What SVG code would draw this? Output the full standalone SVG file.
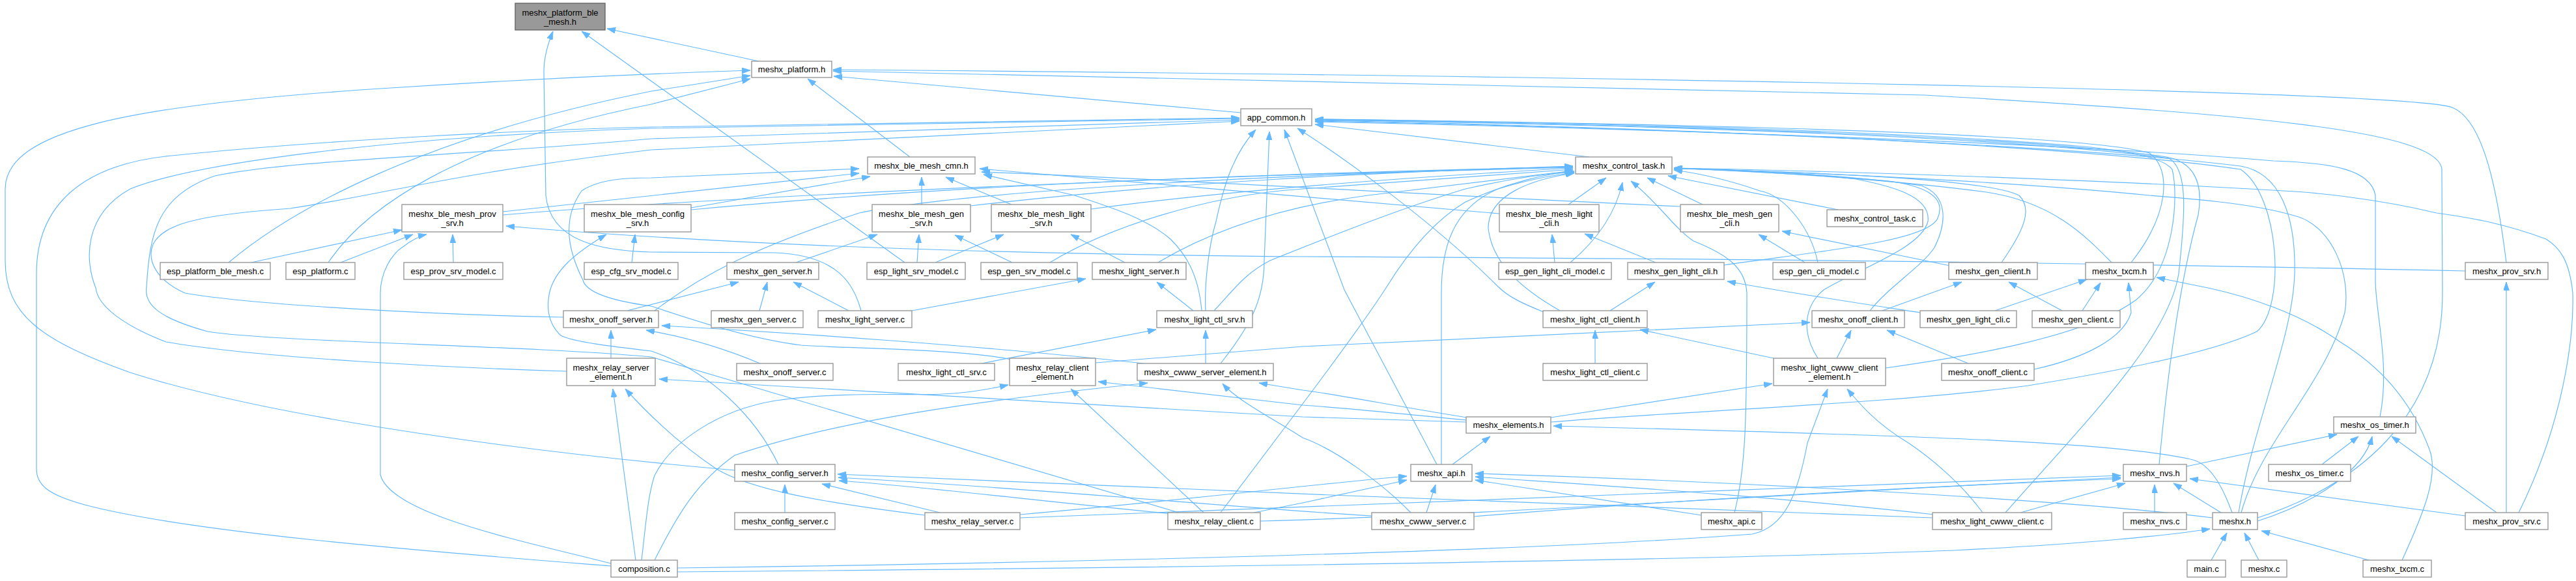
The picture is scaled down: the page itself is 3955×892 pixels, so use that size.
<svg xmlns="http://www.w3.org/2000/svg" width="3955" height="892" viewBox="0 0 3955 892">
<style>
.n rect{fill:#fff;stroke:#999;stroke-width:1.4}
.r rect{fill:#999;stroke:#666;stroke-width:1.4}
text{font-family:"Liberation Sans",Arial,Helvetica,sans-serif;font-size:13px;text-anchor:middle;fill:#000}
#edges path{fill:none;stroke:#63b8ff;stroke-width:1.15;marker-end:url(#a)}
</style>
<defs>
<marker id="a" viewBox="0 0 13 9" refX="13" refY="4.5" markerWidth="13" markerHeight="9" markerUnits="userSpaceOnUse" orient="auto"><path d="M0,0 L13,4.5 L0,9 z" fill="#63b8ff" stroke="#63b8ff" stroke-width="0.8"/></marker>
</defs>
<rect width="3955" height="892" fill="#fff"/>
<g id="edges">
<path d="M1165,94 L932,44"/>
<path d="M1322,477 C1312,440 1290,392 1190,388 L1000,387 C920,385 845,370 838,300 L835,110 C835,85 842,65 849,48"/>
<path d="M1389,403 L893,48"/>
<path d="M1128,722 C900,702 450,652 200,572 C60,522 8,482 8,400 L8,290 C8,200 200,160 600,135 C800,122 1000,113 1152,108"/>
<path d="M351,403 C450,320 650,210 1000,140 L1152,116"/>
<path d="M504,403 C560,320 700,220 1000,160 L1152,121"/>
<path d="M1397,241 L1240,121"/>
<path d="M3848,403 C3835,300 3815,185 3765,165 C3700,140 2500,117 1279,107"/>
<path d="M3466,795 C3620,745 3750,640 3750,450 L3749,260 C3745,200 3450,175 2955,146 L1279,109"/>
<path d="M1905,173 L1280,117"/>
<path d="M938,869 C700,850 300,820 130,775 C75,760 56,745 56,720 L56,420 C56,320 120,250 274,238 C500,215 800,200 1000,195 L1903,181"/>
<path d="M870,570 C700,565 400,550 255,525 C190,500 150,470 147,442 C130,400 128,330 200,290 C300,250 600,210 1000,197 L1903,182"/>
<path d="M1810,787 L1000,548 C800,530 420,525 319,509 C250,490 220,470 225,440 C230,360 240,300 330,270 C450,245 700,240 1000,213 L1903,184"/>
<path d="M865,487 C700,484 400,470 284,450 C240,430 225,400 235,375 C250,345 300,330 446,320 C580,300 700,265 1000,230 L1903,186"/>
<path d="M2440,241 L2019,191"/>
<path d="M2206,713 L2064,445 L1972,199"/>
<path d="M1874,558 C1920,500 1941,460 1941,400 L1949,202"/>
<path d="M1851,477 C1849,440 1855,380 1867,340 C1880,280 1895,235 1928,199"/>
<path d="M2370,479 C2335,465 2315,455 2300,440 C2200,340 2060,240 1992,197"/>
<path d="M3272,403 C3330,330 3335,260 3300,235 C3200,205 2600,190 2019,183"/>
<path d="M3315,713 C3330,550 3350,420 3375,330 C3385,270 3360,245 3320,240 C3100,210 2600,192 2019,184"/>
<path d="M3079,787 C3200,650 3330,520 3345,420 C3355,330 3360,260 3330,243 C3100,212 2600,193 2019,184"/>
<path d="M3437,787 C3460,650 3520,520 3523,420 C3525,330 3500,265 3440,255 C3200,225 2600,197 2019,186"/>
<path d="M3654,640 C3670,560 3647,480 3647,430 L3647,300 C3640,260 3580,250 3490,247 C3200,222 2600,199 2019,187"/>
<path d="M2895,565 C3000,550 3200,520 3280,460 C3340,410 3345,300 3335,260 C3320,240 3250,230 3200,225 C2900,200 2500,190 2019,183"/>
<path d="M3867,787 C3935,650 3952,520 3950,450 C3945,400 3930,380 3909,367 C3850,345 3800,335 3741,327 C3650,305 3550,295 3506,293 C3200,275 2800,262 2570,258"/>
<path d="M2381,648 C2600,630 2900,620 3114,592 C3250,570 3400,540 3465,509 C3510,470 3500,300 3440,260 C3200,225 2600,196 2019,185"/>
<path d="M1552,552 C1480,536 1300,535 1230,530 C1150,520 1060,490 1000,470 C940,462 900,450 895,430 C875,390 860,340 893,293 C920,275 960,273 1000,273 L1319,259"/>
<path d="M772,325 C850,315 1000,300 1319,266"/>
<path d="M1061,319 L1336,271"/>
<path d="M1415,314 L1415,272"/>
<path d="M1553,314 L1452,272"/>
<path d="M2302,328 C2000,300 1700,275 1504,259"/>
<path d="M2580,317 C2200,300 1800,275 1507,264"/>
<path d="M1845,477 C1840,420 1820,390 1797,367 C1760,335 1702,317 1650,300 L1510,268"/>
<path d="M772,330 C1000,310 1500,285 2000,268 L2415,257"/>
<path d="M1061,322 C1400,290 1800,270 2415,256"/>
<path d="M1490,316 C1800,280 2100,265 2415,255"/>
<path d="M1675,321 C1900,290 2200,270 2415,258"/>
<path d="M1005,477 C1080,420 1159,380 1319,327 C1500,290 2000,267 2415,256"/>
<path d="M1612,403 C1700,350 1850,300 2000,290 L2415,260"/>
<path d="M1778,403 C1850,360 1950,320 2100,300 L2415,262"/>
<path d="M1874,787 L2000,620 C2060,540 2110,470 2128,442 C2160,390 2200,340 2250,310 C2320,278 2380,266 2417,263"/>
<path d="M2213,713 L2213,450 C2213,380 2230,320 2300,290 C2350,275 2390,268 2417,265"/>
<path d="M2395,477 C2330,440 2290,400 2285,350 C2285,300 2350,275 2417,266"/>
<path d="M2411,403 C2450,370 2480,330 2491,280"/>
<path d="M2408,314 L2466,273"/>
<path d="M2614,314 L2529,273"/>
<path d="M2663,787 C2680,720 2682,650 2682,450 C2680,410 2650,390 2600,370 C2570,350 2545,310 2504,278"/>
<path d="M2822,322 L2561,270"/>
<path d="M2647,407 C2800,385 2960,370 2975,335 C2990,300 2950,285 2900,278 C2800,268 2650,262 2570,258"/>
<path d="M2791,403 C2780,350 2740,300 2702,293 C2650,275 2600,265 2570,261"/>
<path d="M3073,403 C3110,350 3120,320 3100,300 C3050,275 2800,265 2570,259"/>
<path d="M3242,403 C3200,360 3150,310 3050,295 C2900,275 2700,263 2570,258"/>
<path d="M2791,550 C2765,510 2770,470 2800,445 C2860,410 2950,380 2960,340 C2965,300 2900,285 2850,275 C2750,263 2650,260 2570,259"/>
<path d="M2871,477 C2900,440 2950,410 2970,380 C2990,340 2990,300 2950,285 C2850,270 2700,262 2570,258"/>
<path d="M3441,787 C3470,680 3570,590 3600,480 C3610,420 3580,350 3529,333 C3470,315 3400,308 3300,300 C3100,280 2800,265 2570,258"/>
<path d="M963,477 L1134,433"/>
<path d="M1166,477 L1178,433"/>
<path d="M1303,477 L1218,433"/>
<path d="M1222,403 L1347,360"/>
<path d="M1408,403 L1411,360"/>
<path d="M1554,403 L1466,361"/>
<path d="M1436,403 L1541,360"/>
<path d="M1727,403 L1644,360"/>
<path d="M386,403 L617,353"/>
<path d="M523,403 L634,360"/>
<path d="M938,865 C800,830 600,790 584,729 L584,450 C584,420 600,390 620,378 C630,370 645,362 655,360"/>
<path d="M696,403 L695,360"/>
<path d="M3785,416 C3400,408 2900,398 2000,394 C1500,390 1100,375 777,347"/>
<path d="M970,403 L975,360"/>
<path d="M1195,713 C1160,640 1090,570 1000,539 C940,532 880,525 861,515 C845,500 840,480 842,460 C845,420 880,390 931,360"/>
<path d="M2387,403 L2383,360"/>
<path d="M2542,403 L2433,359"/>
<path d="M2771,403 L2700,360"/>
<path d="M2994,408 L2736,355"/>
<path d="M2472,477 L2541,433"/>
<path d="M2948,480 C2850,465 2750,450 2652,432"/>
<path d="M2890,477 L3012,433"/>
<path d="M3166,477 L3084,433"/>
<path d="M3063,477 L3204,429"/>
<path d="M3197,477 L3225,434"/>
<path d="M3123,567 C3200,550 3260,520 3272,480 L3268,434"/>
<path d="M3688,860 C3720,790 3745,730 3730,690 C3700,610 3650,560 3593,525 C3530,480 3450,455 3390,442 L3311,426"/>
<path d="M1682,557 L2000,532 L2779,495"/>
<path d="M2820,550 L2842,507"/>
<path d="M3022,558 L2897,507"/>
<path d="M2449,558 L2449,507"/>
<path d="M2723,550 L2518,506"/>
<path d="M2381,641 L2721,589"/>
<path d="M1040,872 C1500,866 2300,850 2690,820 C2740,810 2760,760 2775,680 L2806,597"/>
<path d="M3044,787 C3010,740 2960,700 2930,680 C2880,650 2855,620 2836,597"/>
<path d="M2230,713 L2288,670"/>
<path d="M3427,787 C3410,740 3390,710 3363,705 C3250,680 3000,670 2385,654"/>
<path d="M2251,648 C2150,645 2050,641 2000,640 L1012,582"/>
<path d="M2251,645 C2150,635 2050,625 2000,622 L1686,586"/>
<path d="M2252,641 C2150,625 2050,605 2000,599 L1933,588"/>
<path d="M976,860 L941,597"/>
<path d="M1420,791 C1250,770 1150,750 1100,720 C1040,680 990,630 960,597"/>
<path d="M985,860 C992,800 995,760 1005,730 C1030,680 1100,630 1191,615 C1300,600 1400,608 1446,605 C1490,603 1520,597 1548,591"/>
<path d="M1848,787 L1644,597"/>
<path d="M1005,860 C1040,790 1070,740 1128,699 C1300,640 1550,610 1762,588"/>
<path d="M2166,787 C2120,740 2050,690 2000,672 C1950,640 1900,615 1877,589"/>
<path d="M938,550 L938,507"/>
<path d="M1167,558 C1100,530 1040,515 992,507"/>
<path d="M1756,558 C1500,530 1200,510 1016,500"/>
<path d="M1851,558 L1851,507"/>
<path d="M1507,558 L1775,506"/>
<path d="M1400,477 L1667,428"/>
<path d="M1832,477 L1776,433"/>
<path d="M1864,477 C1890,450 1910,420 1950,400 C2050,360 2150,320 2250,290 C2330,272 2380,266 2417,264"/>
<path d="M1205,787 L1205,744"/>
<path d="M1443,787 L1262,743"/>
<path d="M1810,790 C1600,770 1400,745 1288,738"/>
<path d="M2106,792 C1900,780 1600,750 1287,733"/>
<path d="M2967,795 C2500,780 1800,750 1286,728"/>
<path d="M1566,790 C1800,770 2000,745 2160,731"/>
<path d="M1925,787 L2000,772 L2160,737"/>
<path d="M2190,787 L2204,744"/>
<path d="M3397,795 C3200,770 2700,740 2265,727"/>
<path d="M2970,790 C2700,760 2450,745 2265,732"/>
<path d="M2612,791 L2265,737"/>
<path d="M1566,795 C2000,780 2700,750 3256,730"/>
<path d="M1935,800 C2300,790 2800,755 3256,733"/>
<path d="M2263,793 C2600,765 3000,745 3256,735"/>
<path d="M3102,787 L3263,742"/>
<path d="M3308,787 L3308,744"/>
<path d="M3410,787 L3337,742"/>
<path d="M3785,792 L3362,735"/>
<path d="M3357,716 L3588,667"/>
<path d="M3565,713 L3621,670"/>
<path d="M3466,800 C3560,770 3630,720 3642,670"/>
<path d="M3833,787 L3672,670"/>
<path d="M1040,878 C1800,872 2600,860 3000,845 C3200,835 3330,822 3393,812"/>
<path d="M3395,860 L3419,818"/>
<path d="M3468,860 L3446,818"/>
<path d="M3637,860 L3472,815"/>
<path d="M3848,787 L3848,433"/>
</g>
<g id="n-root" class="r"><rect x="791" y="5" width="138" height="41"/><text x="860" y="23.5">meshx_platform_ble</text><text x="860" y="37.5">_mesh.h</text></g>
<g id="n-plat" class="n"><rect x="1154" y="94" width="123" height="25"/><text x="1215.5" y="111">meshx_platform.h</text></g>
<g id="n-app" class="n"><rect x="1905" y="167" width="109" height="26"/><text x="1959.5" y="185">app_common.h</text></g>
<g id="n-cmn" class="n"><rect x="1332" y="241" width="165" height="26"/><text x="1414.5" y="259">meshx_ble_mesh_cmn.h</text></g>
<g id="n-ctl" class="n"><rect x="2419" y="241" width="148" height="26"/><text x="2493" y="259">meshx_control_task.h</text></g>
<g id="n-bprov" class="n"><rect x="617" y="314" width="155" height="42"/><text x="694.5" y="332.5">meshx_ble_mesh_prov</text><text x="694.5" y="346.5">_srv.h</text></g>
<g id="n-bcfg" class="n"><rect x="897" y="314" width="164" height="42"/><text x="979" y="332.5">meshx_ble_mesh_config</text><text x="979" y="346.5">_srv.h</text></g>
<g id="n-bgen" class="n"><rect x="1339" y="314" width="151" height="42"/><text x="1414.5" y="332.5">meshx_ble_mesh_gen</text><text x="1414.5" y="346.5">_srv.h</text></g>
<g id="n-blight" class="n"><rect x="1522" y="314" width="153" height="42"/><text x="1598.5" y="332.5">meshx_ble_mesh_light</text><text x="1598.5" y="346.5">_srv.h</text></g>
<g id="n-blcli" class="n"><rect x="2302" y="314" width="153" height="42"/><text x="2378.5" y="332.5">meshx_ble_mesh_light</text><text x="2378.5" y="346.5">_cli.h</text></g>
<g id="n-bgcli" class="n"><rect x="2580" y="314" width="151" height="42"/><text x="2655.5" y="332.5">meshx_ble_mesh_gen</text><text x="2655.5" y="346.5">_cli.h</text></g>
<g id="n-ctlc" class="n"><rect x="2805" y="322" width="147" height="26"/><text x="2878.5" y="340">meshx_control_task.c</text></g>
<g id="n-epbm" class="n"><rect x="246" y="403" width="169" height="26"/><text x="330.5" y="421">esp_platform_ble_mesh.c</text></g>
<g id="n-ep" class="n"><rect x="439" y="403" width="106" height="26"/><text x="492" y="421">esp_platform.c</text></g>
<g id="n-epsm" class="n"><rect x="620" y="403" width="152" height="26"/><text x="696" y="421">esp_prov_srv_model.c</text></g>
<g id="n-ecsm" class="n"><rect x="897" y="403" width="144" height="26"/><text x="969" y="421">esp_cfg_srv_model.c</text></g>
<g id="n-gsh" class="n"><rect x="1116" y="403" width="141" height="26"/><text x="1186.5" y="421">meshx_gen_server.h</text></g>
<g id="n-elsm" class="n"><rect x="1331" y="403" width="151" height="26"/><text x="1406.5" y="421">esp_light_srv_model.c</text></g>
<g id="n-egsm" class="n"><rect x="1506" y="403" width="148" height="26"/><text x="1580" y="421">esp_gen_srv_model.c</text></g>
<g id="n-lsh" class="n"><rect x="1677" y="403" width="144" height="26"/><text x="1749" y="421">meshx_light_server.h</text></g>
<g id="n-eglcm" class="n"><rect x="2301" y="403" width="173" height="26"/><text x="2387.5" y="421">esp_gen_light_cli_model.c</text></g>
<g id="n-glch" class="n"><rect x="2499" y="403" width="148" height="26"/><text x="2573" y="421">meshx_gen_light_cli.h</text></g>
<g id="n-egcm" class="n"><rect x="2722" y="403" width="142" height="26"/><text x="2793" y="421">esp_gen_cli_model.c</text></g>
<g id="n-gch" class="n"><rect x="2992" y="403" width="136" height="26"/><text x="3060" y="421">meshx_gen_client.h</text></g>
<g id="n-txh" class="n"><rect x="3202" y="403" width="104" height="26"/><text x="3254" y="421">meshx_txcm.h</text></g>
<g id="n-psh" class="n"><rect x="3785" y="403" width="127" height="26"/><text x="3848.5" y="421">meshx_prov_srv.h</text></g>
<g id="n-osh" class="n"><rect x="865" y="477" width="146" height="26"/><text x="938" y="495">meshx_onoff_server.h</text></g>
<g id="n-gsc" class="n"><rect x="1092" y="477" width="141" height="26"/><text x="1162.5" y="495">meshx_gen_server.c</text></g>
<g id="n-lsc" class="n"><rect x="1256" y="477" width="144" height="26"/><text x="1328" y="495">meshx_light_server.c</text></g>
<g id="n-lctlsh" class="n"><rect x="1776" y="477" width="147" height="26"/><text x="1849.5" y="495">meshx_light_ctl_srv.h</text></g>
<g id="n-lctlch" class="n"><rect x="2369" y="477" width="160" height="26"/><text x="2449" y="495">meshx_light_ctl_client.h</text></g>
<g id="n-och" class="n"><rect x="2782" y="477" width="142" height="26"/><text x="2853" y="495">meshx_onoff_client.h</text></g>
<g id="n-glcc" class="n"><rect x="2948" y="477" width="148" height="26"/><text x="3022" y="495">meshx_gen_light_cli.c</text></g>
<g id="n-gcc" class="n"><rect x="3120" y="477" width="135" height="26"/><text x="3187.5" y="495">meshx_gen_client.c</text></g>
<g id="n-rse" class="n"><rect x="870" y="550" width="136" height="42"/><text x="938" y="568.5">meshx_relay_server</text><text x="938" y="582.5">_element.h</text></g>
<g id="n-osc" class="n"><rect x="1131" y="558" width="148" height="26"/><text x="1205" y="576">meshx_onoff_server.c</text></g>
<g id="n-lctlsc" class="n"><rect x="1379" y="558" width="148" height="26"/><text x="1453" y="576">meshx_light_ctl_srv.c</text></g>
<g id="n-rce" class="n"><rect x="1550" y="550" width="132" height="42"/><text x="1616" y="568.5">meshx_relay_client</text><text x="1616" y="582.5">_element.h</text></g>
<g id="n-cse" class="n"><rect x="1746" y="558" width="209" height="26"/><text x="1850.5" y="576">meshx_cwww_server_element.h</text></g>
<g id="n-lctlcc" class="n"><rect x="2369" y="558" width="160" height="26"/><text x="2449" y="576">meshx_light_ctl_client.c</text></g>
<g id="n-lcce" class="n"><rect x="2723" y="550" width="172" height="42"/><text x="2809" y="568.5">meshx_light_cwww_client</text><text x="2809" y="582.5">_element.h</text></g>
<g id="n-occ" class="n"><rect x="2981" y="558" width="142" height="26"/><text x="3052" y="576">meshx_onoff_client.c</text></g>
<g id="n-elh" class="n"><rect x="2251" y="640" width="130" height="25"/><text x="2316" y="657">meshx_elements.h</text></g>
<g id="n-oth" class="n"><rect x="3583" y="640" width="126" height="25"/><text x="3646" y="657">meshx_os_timer.h</text></g>
<g id="n-csh" class="n"><rect x="1128" y="713" width="154" height="26"/><text x="1205" y="731">meshx_config_server.h</text></g>
<g id="n-apih" class="n"><rect x="2166" y="713" width="94" height="26"/><text x="2213" y="731">meshx_api.h</text></g>
<g id="n-nvsh" class="n"><rect x="3260" y="713" width="97" height="26"/><text x="3308.5" y="731">meshx_nvs.h</text></g>
<g id="n-otc" class="n"><rect x="3483" y="713" width="126" height="26"/><text x="3546" y="731">meshx_os_timer.c</text></g>
<g id="n-csc" class="n"><rect x="1128" y="787" width="154" height="26"/><text x="1205" y="805">meshx_config_server.c</text></g>
<g id="n-rsc" class="n"><rect x="1420" y="787" width="146" height="26"/><text x="1493" y="805">meshx_relay_server.c</text></g>
<g id="n-rcc" class="n"><rect x="1793" y="787" width="142" height="26"/><text x="1864" y="805">meshx_relay_client.c</text></g>
<g id="n-cwsc" class="n"><rect x="2106" y="787" width="157" height="26"/><text x="2184.5" y="805">meshx_cwww_server.c</text></g>
<g id="n-apic" class="n"><rect x="2612" y="787" width="93" height="26"/><text x="2658.5" y="805">meshx_api.c</text></g>
<g id="n-lccc" class="n"><rect x="2967" y="787" width="183" height="26"/><text x="3058.5" y="805">meshx_light_cwww_client.c</text></g>
<g id="n-nvsc" class="n"><rect x="3260" y="787" width="97" height="26"/><text x="3308.5" y="805">meshx_nvs.c</text></g>
<g id="n-mh" class="n"><rect x="3397" y="787" width="69" height="26"/><text x="3431.5" y="805">meshx.h</text></g>
<g id="n-psc" class="n"><rect x="3785" y="787" width="127" height="26"/><text x="3848.5" y="805">meshx_prov_srv.c</text></g>
<g id="n-comp" class="n"><rect x="938" y="860" width="102" height="26"/><text x="989" y="878">composition.c</text></g>
<g id="n-mainc" class="n"><rect x="3358" y="860" width="59" height="26"/><text x="3387.5" y="878">main.c</text></g>
<g id="n-mxc" class="n"><rect x="3441" y="860" width="70" height="26"/><text x="3476" y="878">meshx.c</text></g>
<g id="n-txc" class="n"><rect x="3628" y="860" width="105" height="26"/><text x="3680.5" y="878">meshx_txcm.c</text></g>
</svg>
